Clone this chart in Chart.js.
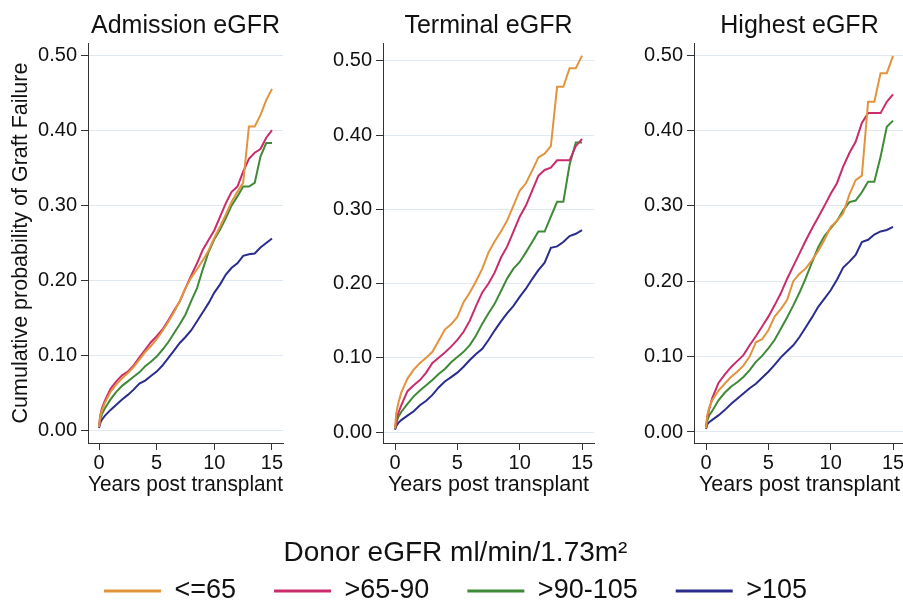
<!DOCTYPE html>
<html>
<head>
<meta charset="utf-8">
<script src="https://cdn.jsdelivr.net/npm/chart.js@4.4.1/dist/chart.umd.min.js"></script>
<style>
  html, body { margin: 0; padding: 0; background: #fff; overflow: hidden; }
  body { width: 903px; height: 603px; position: relative; }
  canvas { position: absolute; }
</style>
</head>
<body>
<canvas id="admChart" width="290" height="500" style="left:0;top:0"></canvas>
<canvas id="termChart" width="300" height="500" style="left:300px;top:0"></canvas>
<canvas id="highChart" width="310" height="500" style="left:600px;top:0"></canvas>
<canvas id="legendChart" width="903" height="150" style="left:4px;top:453px"></canvas>
<script>
const years = [0, 0.1, 0.25, 0.5, 1, 1.5, 2, 2.5, 3, 3.5, 4, 4.5, 5, 5.5, 6, 6.5, 7, 7.5,
  8, 8.5, 9, 9.5, 10, 10.5, 11, 11.5, 12, 12.5, 13, 13.5, 14, 14.5, 15];
const groups = ["<=65", ">65-90", ">90-105", ">105"];
const groupColors = ["#e2943d", "#c92c6b", "#3f8a36", "#2b2d8c"];
const xTicks = [0, 5, 10, 15];
const yTicks = [0, 0.1, 0.2, 0.3, 0.4, 0.5];

// Admission eGFR
const admLe65 = [0.005, 0.018, 0.027, 0.037, 0.052, 0.062, 0.070, 0.077, 0.085, 0.095, 0.105,
  0.113, 0.122, 0.133, 0.145, 0.158, 0.173, 0.190, 0.204, 0.215, 0.227, 0.240, 0.257,
  0.272, 0.288, 0.305, 0.318, 0.330, 0.405, 0.405, 0.420, 0.440, 0.455];
const adm65to90 = [0.005, 0.020, 0.030, 0.040, 0.056, 0.066, 0.074, 0.079, 0.087, 0.098, 0.108,
  0.118, 0.126, 0.135, 0.147, 0.160, 0.172, 0.190, 0.207, 0.223, 0.241, 0.254, 0.267,
  0.285, 0.303, 0.318, 0.325, 0.345, 0.362, 0.370, 0.375, 0.390, 0.400];
const adm90to105 = [0.005, 0.015, 0.022, 0.030, 0.042, 0.052, 0.060, 0.066, 0.072, 0.078, 0.086,
  0.092, 0.099, 0.108, 0.118, 0.130, 0.142, 0.155, 0.173, 0.190, 0.215, 0.238, 0.255,
  0.268, 0.283, 0.300, 0.312, 0.325, 0.325, 0.330, 0.365, 0.383, 0.383];
const admGt105 = [0.004, 0.010, 0.015, 0.020, 0.028, 0.035, 0.042, 0.048, 0.055, 0.063, 0.067,
  0.073, 0.079, 0.087, 0.097, 0.107, 0.117, 0.125, 0.134, 0.146, 0.158, 0.170, 0.184,
  0.195, 0.208, 0.217, 0.223, 0.233, 0.235, 0.236, 0.244, 0.250, 0.256];

// Terminal eGFR
const termLe65 = [0.005, 0.025, 0.038, 0.053, 0.072, 0.084, 0.093, 0.100, 0.108, 0.123, 0.138,
  0.145, 0.155, 0.175, 0.188, 0.203, 0.220, 0.242, 0.257, 0.270, 0.285, 0.305, 0.325,
  0.335, 0.352, 0.370, 0.375, 0.385, 0.465, 0.465, 0.490, 0.490, 0.507];
const term65to90 = [0.005, 0.015, 0.025, 0.036, 0.055, 0.063, 0.070, 0.080, 0.093, 0.100, 0.107,
  0.115, 0.124, 0.135, 0.150, 0.170, 0.188, 0.200, 0.215, 0.235, 0.250, 0.270, 0.290,
  0.305, 0.325, 0.345, 0.353, 0.356, 0.366, 0.366, 0.366, 0.385, 0.395];
const term90to105 = [0.004, 0.012, 0.020, 0.027, 0.038, 0.048, 0.056, 0.063, 0.070, 0.078, 0.085,
  0.094, 0.101, 0.108, 0.117, 0.130, 0.146, 0.160, 0.173, 0.190, 0.207, 0.220, 0.229,
  0.242, 0.256, 0.270, 0.270, 0.290, 0.310, 0.310, 0.360, 0.390, 0.390];
const termGt105 = [0.003, 0.008, 0.012, 0.016, 0.022, 0.028, 0.036, 0.042, 0.050, 0.060, 0.068,
  0.074, 0.080, 0.088, 0.097, 0.105, 0.112, 0.124, 0.137, 0.149, 0.160, 0.170, 0.182,
  0.193, 0.206, 0.218, 0.228, 0.248, 0.250, 0.256, 0.264, 0.267, 0.272];

// Highest eGFR
const highLe65 = [0.005, 0.022, 0.032, 0.042, 0.055, 0.064, 0.073, 0.080, 0.088, 0.100, 0.119,
  0.123, 0.135, 0.153, 0.163, 0.175, 0.200, 0.210, 0.217, 0.228, 0.240, 0.255, 0.272,
  0.280, 0.290, 0.315, 0.334, 0.340, 0.438, 0.438, 0.476, 0.476, 0.499];
const high65to90 = [0.005, 0.020, 0.030, 0.045, 0.065, 0.076, 0.086, 0.094, 0.102, 0.115, 0.127,
  0.140, 0.153, 0.168, 0.184, 0.203, 0.220, 0.237, 0.254, 0.270, 0.285, 0.300, 0.316,
  0.330, 0.352, 0.370, 0.385, 0.410, 0.423, 0.423, 0.423, 0.438, 0.448];
const high90to105 = [0.005, 0.015, 0.022, 0.028, 0.042, 0.052, 0.060, 0.066, 0.073, 0.082, 0.093,
  0.101, 0.111, 0.122, 0.137, 0.152, 0.168, 0.185, 0.204, 0.225, 0.245, 0.260, 0.270,
  0.280, 0.294, 0.305, 0.307, 0.318, 0.332, 0.332, 0.365, 0.405, 0.413];
const highGt105 = [0.004, 0.010, 0.013, 0.016, 0.022, 0.029, 0.037, 0.044, 0.051, 0.058, 0.064,
  0.072, 0.080, 0.089, 0.099, 0.107, 0.115, 0.126, 0.139, 0.152, 0.166, 0.177, 0.188,
  0.202, 0.218, 0.226, 0.235, 0.252, 0.255, 0.262, 0.266, 0.268, 0.272];

const axisColor = "#333";
const textColor = "#111";
Chart.defaults.font.family = '"Liberation Sans", Arial, Helvetica, sans-serif';

function drawPanel(id, title, series, fit) {
  const ctx = document.getElementById(id).getContext("2d");
  return new Chart(ctx, {
    type: "line",
    data: {
      datasets: series.map((vals, i) => ({
        label: groups[i],
        data: years.map((t, j) => ({ x: t, y: vals[j] })),
        borderColor: groupColors[i],
        borderWidth: 2,
        pointRadius: 0,
        tension: 0,
        fill: false
      }))
    },
    options: {
      responsive: false,
      animation: false,
      events: [],
      layout: { padding: { left: 0, right: fit.padRight, top: 0, bottom: 0 } },
      plugins: {
        legend: { display: false },
        tooltip: { enabled: false },
        title: {
          display: true,
          text: title,
          fullSize: false,
          color: textColor,
          font: { size: 25, weight: "normal" },
          padding: { top: 11, bottom: 2 }
        }
      },
      scales: {
        x: {
          type: "linear",
          min: fit.xMin,
          max: fit.xMax,
          afterFit: s => { s.height = 57; },
          afterBuildTicks: s => { s.ticks = xTicks.map(v => ({ value: v })); },
          grid: { drawOnChartArea: false, tickLength: 7, tickColor: axisColor },
          border: { color: axisColor },
          ticks: { padding: 1, maxRotation: 0, color: textColor, font: { size: 20 } },
          title: {
            display: true,
            text: "Years post transplant",
            color: textColor,
            font: { size: 21.5 },
            padding: { top: 0, bottom: 2 }
          }
        },
        y: {
          min: fit.yMin,
          max: fit.yMax,
          afterFit: s => { s.width = fit.yWidth; },
          afterBuildTicks: s => { s.ticks = yTicks.map(v => ({ value: v })); },
          grid: { color: "#e0e9f1", tickLength: 7, tickColor: axisColor },
          border: { color: axisColor },
          ticks: {
            padding: 4,
            color: textColor,
            font: { size: 20 },
            callback: v => Number(v).toFixed(2)
          },
          title: {
            display: fit.yTitle,
            text: "Cumulative probability of Graft Failure",
            color: textColor,
            font: { size: 21.5 },
            padding: { top: 8, bottom: 0 }
          }
        }
      }
    }
  });
}

drawPanel("admChart", "Admission eGFR", [admLe65, adm65to90, adm90to105, admGt105],
  { yWidth: 88, padRight: 7, xMin: -0.954, xMax: 15.954, yMin: -0.016, yMax: 0.516, yTitle: true });
drawPanel("termChart", "Terminal eGFR", [termLe65, term65to90, term90to105, termGt105],
  { yWidth: 83, padRight: 6, xMin: -0.963, xMax: 15.96, yMin: -0.0148, yMax: 0.524, yTitle: false });
drawPanel("highChart", "Highest eGFR", [highLe65, high65to90, high90to105, highGt105],
  { yWidth: 94, padRight: 5, xMin: -0.963, xMax: 15.96, yMin: -0.0146, yMax: 0.516, yTitle: false });

// shared legend underneath the three panels
new Chart(document.getElementById("legendChart"), {
  type: "line",
  data: {
    datasets: groups.map((g, i) => ({
      label: g,
      data: [],
      backgroundColor: groupColors[i],
      borderColor: groupColors[i],
      borderWidth: 0
    }))
  },
  options: {
    responsive: false,
    animation: false,
    events: [],
    layout: { padding: { bottom: -11.5 } },
    scales: { x: { display: false }, y: { display: false } },
    plugins: {
      tooltip: { enabled: false },
      legend: {
        position: "bottom",
        title: {
          display: true,
          text: "Donor eGFR ml/min/1.73m²",
          color: textColor,
          font: { size: 28 },
          padding: { top: 0, bottom: -33.1 }
        },
        labels: { boxWidth: 57, boxHeight: 3, padding: 38, color: textColor, font: { size: 27 } }
      }
    }
  }
});
</script>
</body>
</html>
